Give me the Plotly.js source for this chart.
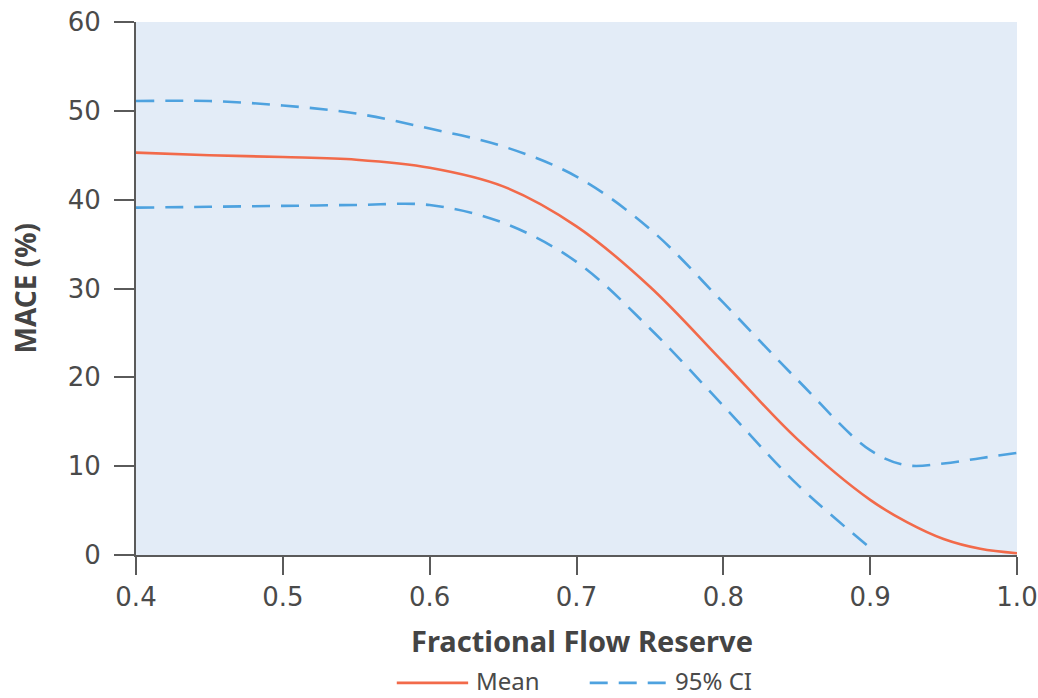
<!DOCTYPE html>
<html>
<head>
<meta charset="utf-8">
<script src="https://cdn.plot.ly/plotly-3.0.1.min.js"></script>
<style>html,body{margin:0;padding:0;background:#fff}#chart{width:1038px;height:698px}</style>
</head>
<body>
<div id="chart"></div>
<script>
// Fractional Flow Reserve values
const ffr = [0.40, 0.45, 0.50, 0.55, 0.60, 0.65, 0.70, 0.75, 0.80, 0.85, 0.90, 0.925, 0.95, 0.975, 1.00];
// MACE (%) mean
const meanMace = [45.3, 45.0, 44.8, 44.5, 43.6, 41.5, 37.0, 30.2, 21.7, 13.1, 6.2, 3.7, 1.8, 0.7, 0.2];
// 95% CI upper bound
const ciUpper = [51.1, 51.1, 50.6, 49.7, 48.0, 46.0, 42.6, 36.7, 28.4, 19.8, 11.8, 10.1, 10.3, 10.9, 11.5];
// 95% CI lower bound (ends at 0.90)
const ffrLower = [0.40, 0.45, 0.50, 0.55, 0.60, 0.65, 0.70, 0.75, 0.80, 0.85, 0.90];
const ciLower = [39.1, 39.2, 39.3, 39.4, 39.4, 37.4, 33.0, 25.5, 16.8, 8.0, 0.8];

const xTicks = [0.4, 0.5, 0.6, 0.7, 0.8, 0.9, 1.0];
const xTickText = ['0.4', '0.5', '0.6', '0.7', '0.8', '0.9', '1.0'];
const yTicks = [0, 10, 20, 30, 40, 50, 60];
const legendLabels = ['Mean', '95% CI'];
const xTitle = 'Fractional Flow Reserve';
const yTitle = 'MACE (%)';

const meanColor = '#f26a4a';
const ciColor = '#4ea2df';
const fontFam = '"Noto Sans", "Open Sans", sans-serif';
const tickFam = '"DejaVu Sans", "Noto Sans", sans-serif';

const traces = [
  {x: ffr, y: ciUpper, mode: 'lines', line: {color: ciColor, width: 2.6, dash: '18px,11px', shape: 'spline'}, showlegend: false, hoverinfo: 'none'},
  {x: ffrLower, y: ciLower, mode: 'lines', line: {color: ciColor, width: 2.6, dash: '18px,11px', shape: 'spline'}, showlegend: false, hoverinfo: 'none'},
  {x: ffr, y: meanMace, mode: 'lines', line: {color: meanColor, width: 2.6, shape: 'spline'}, showlegend: false, hoverinfo: 'none'}
];

const legLineY = -0.240;
const legTextY = -0.235;
const layout = {
  width: 1038, height: 698,
  margin: {l: 136, r: 21, t: 22, b: 143},
  paper_bgcolor: '#ffffff',
  plot_bgcolor: '#e3ecf7',
  font: {family: fontFam, color: '#4a4a4a'},
  xaxis: {
    range: [0.4, 1.0], tickvals: xTicks, ticktext: xTickText,
    showgrid: false, zeroline: false, showline: true, linecolor: '#5a5a5a', linewidth: 2,
    ticks: 'outside', ticklen: 18, tickwidth: 2, tickcolor: '#5a5a5a',
    ticklabelstandoff: 0,
    tickfont: {size: 26, color: '#4a4a4a', family: tickFam}
  },
  yaxis: {
    range: [0, 60], tickvals: yTicks,
    showgrid: false, zeroline: false, showline: true, linecolor: '#5a5a5a', linewidth: 2,
    ticks: 'outside', ticklen: 20, tickwidth: 2, tickcolor: '#5a5a5a',
    ticklabelstandoff: 8,
    tickfont: {size: 26, color: '#4a4a4a', family: tickFam}
  },
  shapes: [
    {type: 'line', xref: 'paper', yref: 'paper', x0: 0.296, x1: 0.377, y0: legLineY, y1: legLineY, line: {color: meanColor, width: 2.6}},
    {type: 'line', xref: 'paper', yref: 'paper', x0: 0.515, x1: 0.602, y0: legLineY, y1: legLineY, line: {color: ciColor, width: 2.6, dash: '18px,11px'}}
  ],
  annotations: [
    {xref: 'paper', yref: 'paper', x: 0.506, y: -0.160, xanchor: 'center', yanchor: 'middle', text: xTitle, showarrow: false,
     font: {size: 29, color: '#444', family: fontFam, weight: 'bold'}},
    {xref: 'paper', yref: 'paper', x: -0.126, y: 0.5, xanchor: 'center', yanchor: 'middle', text: yTitle, textangle: -90, showarrow: false,
     font: {size: 28, color: '#444', family: fontFam, weight: 'bold'}},
    {xref: 'paper', yref: 'paper', x: 0.384, y: legTextY, xanchor: 'left', yanchor: 'middle', text: legendLabels[0], showarrow: false, font: {size: 24, color: '#4a4a4a'}},
    {xref: 'paper', yref: 'paper', x: 0.609, y: legTextY, xanchor: 'left', yanchor: 'middle', text: legendLabels[1], showarrow: false, font: {size: 24, color: '#4a4a4a'}}
  ],
  showlegend: false
};

Plotly.newPlot('chart', traces, layout, {displayModeBar: false, staticPlot: true});
</script>
</body>
</html>
